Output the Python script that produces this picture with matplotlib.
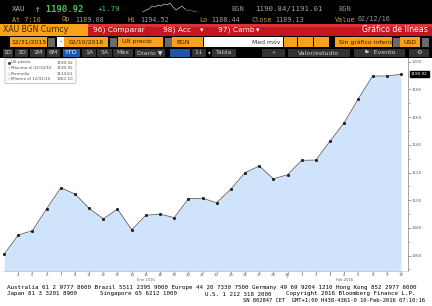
import matplotlib
matplotlib.use("Agg")
import matplotlib.pyplot as plt
from matplotlib.patches import Rectangle, FancyBboxPatch
from matplotlib.ticker import MultipleLocator, FixedLocator

# XAU BGN Curncy, daily closes 12/31/2015 - 02/10/2016
days = ['31', '4', '5', '6', '7', '8', '11', '12', '13', '14', '15', '18', '19', '20',
        '21', '22', '25', '26', '27', '28', '29', '1', '2', '3', '4', '5', '8', '9', '10']
prices = [1061.10, 1074.9, 1078.0, 1093.9, 1109.0, 1104.5, 1094.1, 1086.6, 1093.6,
          1078.7, 1089.1, 1090.0, 1087.4, 1101.1, 1101.4, 1098.2, 1108.1, 1119.9,
          1124.7, 1115.5, 1118.4, 1128.8, 1129.0, 1142.7, 1156.0, 1173.3, 1189.7,
          1189.7, 1190.92]
months = ['Ene 2016', 'Feb 2016']
month_pos = [10, 24]

legend_rows = [('Ult precio', '1190.92'), ('Máximo el 02/10/16', '1190.92'),
               ('Promedio', '1114.61'), ('Mínimo el 12/31/15', '1061.10')]

# intraday sparkline in the header
spark = [3, 5, 6, 9, 8, 10, 9, 11, 10, 12, 8, 5, 7, 9, 6, 4, 5, 3, 4]

mono = 'DejaVu Sans Mono'
ORANGE = '#f9a11b'
RED = '#c3161e'
LBL = '#c89a48'
VAL = '#9a9a9a'

fig = plt.figure(figsize=(4.32, 3.06), dpi=100)
bg = fig.add_axes([0, 0, 1, 1])
bg.set_xlim(0, 432)
bg.set_ylim(306, 0)
bg.axis('off')


def box(a, x0, y0, x1, y1, color, **kw):
    a.add_patch(Rectangle((x0, y0), x1 - x0, y1 - y0, color=color, lw=0, **kw))


def txt(a, x, y, s, size=5, color='black', ha='left', family='DejaVu Sans', **kw):
    a.text(x, y, s, fontsize=size, color=color, ha=ha, va='center', family=family, **kw)


# header (black)
box(bg, 0, 0, 432, 58, 'black')
txt(bg, 12, 9, 'XAU', 5.4, '#b0b0b0', family=mono)
txt(bg, 35, 9, '↑ 1190.92', 6.4, '#4ec24e', family=mono, weight='bold')
txt(bg, 98, 9, '+1.79', 5.4, '#4ec24e', family=mono)
sx = [143 + i * 3.0 for i in range(len(spark))]
sy = [15 - v for v in spark]
bg.plot(sx[:15], sy[:15], color='#c8c8c8', lw=0.5)
bg.plot(sx[14:], sy[14:], color='#707070', lw=0.5)
txt(bg, 231, 9, 'BGN', 5.0, '#909090', family=mono)
txt(bg, 255, 9, '1190.84/1191.01', 5.4, '#a0a0a0', family=mono)
txt(bg, 338, 9, 'BGN', 5.0, '#909090', family=mono)

row1 = [(12, 'At 7:10', LBL), (62, 'Op', LBL), (75, '1189.08', VAL),
        (127, 'Hi', LBL), (140, '1194.52', VAL), (199, 'Lo', LBL),
        (211, '1188.44', VAL), (252, 'Close', LBL), (275, '1189.13', VAL),
        (335, 'Value', LBL), (358, '02/12/16', VAL)]
for x, s, c in row1:
    txt(bg, x, 19.5, s, 4.9, c, family=mono)

# row 2: security + red action bar
box(bg, 0, 24, 88, 36, ORANGE)
txt(bg, 3, 30, 'XAU BGN Curncy', 5.6, '#3a2300')
box(bg, 88, 24, 432, 36, RED)
box(bg, 88, 24, 432, 27, '#d8343a')
txt(bg, 93, 30, '96) Comparar', 5.4, 'white')
txt(bg, 163, 30, '98) Acc', 5.4, 'white')
txt(bg, 200, 30.5, '▾', 5, 'white')
txt(bg, 218, 30, '97) Camb', 5.4, 'white')
txt(bg, 256, 30.5, '▾', 5, 'white')
txt(bg, 428, 30, 'Gráfico de líneas', 5.6, 'white', ha='right')

# row 3: date range and options
fields = [(10, 47, '12/31/2015', 'center'), (64, 108, '02/10/2016', 'center'),
          (118, 163, 'Ult precio', 'left'), (172, 203, 'BGN', 'left'),
          (284, 297, '', 'left'), (298, 313, '', 'left'), (314, 329, '', 'left'),
          (335, 392, 'Sin gráfico inferio', 'left'), (400, 420, 'USD', 'left')]
for x0, x1, s, ha in fields:
    box(bg, x0, 37, x1, 47, ORANGE)
    tx = (x0 + x1) / 2 if ha == 'center' else x0 + 4
    txt(bg, tx, 42, s, 4.4, '#2a1800', ha=ha)
for x0 in (48, 110, 165, 393, 422):
    box(bg, x0, 37.5, x0 + 7, 46.5, '#6a6a6a')
box(bg, 57, 37, 64, 47, 'white')
txt(bg, 60.5, 42, '-', 4.4, 'black', ha='center')
box(bg, 204, 37, 283, 47, 'white')
txt(bg, 280, 42, 'Med móv', 4.4, '#333333', ha='right')

# row 4: period buttons
buttons = [(3, 13, '1D'), (15, 28, '3D'), (30, 45, '1M'), (47, 60, '6M'), (63, 80, 'YTD'),
           (82, 96, '1A'), (97, 112, '5A'), (113, 133, 'Máx'), (135, 165, 'Diario ▼'),
           (170, 190, ''), (192, 206, '1↓'), (212, 236, 'Tabla'), (262, 285, '«'),
           (288, 350, 'Valor/estudio'), (354, 405, '⚑  Evento'), (409, 429, '⚙')]
for x0, x1, s in buttons:
    c = '#1f57a8' if s in ('YTD', '') else '#333333'
    box(bg, x0, 48.5, x1, 57, c)
    txt(bg, (x0 + x1) / 2, 52.8, s, 4.5, 'white' if s == 'YTD' else '#d0d0d0', ha='center')
txt(bg, 209, 52.8, '▾', 4, '#d0d0d0', ha='center')

# footer
box(bg, 0, 283, 432, 306, 'white')
txt(bg, 7, 287.5, 'Australia 61 2 9777 8600 Brazil 5511 2395 9000 Europe 44 20 7330 7500 '
    'Germany 49 69 9204 1210 Hong Kong 852 2977 6000', 4.25, 'black', family=mono)
txt(bg, 7, 294, 'Japan 81 3 3201 8900', 4.25, 'black', family=mono)
txt(bg, 100, 294, 'Singapore 65 6212 1000', 4.25, 'black', family=mono)
txt(bg, 205, 294, 'U.S. 1 212 318 2000', 4.25, 'black', family=mono)
txt(bg, 286, 294, 'Copyright 2016 Bloomberg Finance L.P.', 4.25, 'black', family=mono)
txt(bg, 243, 300.5, 'SN 802847 CET  GMT+1:00 H438-4361-0 10-Feb-2016 07:10:16', 3.95,
    'black', family=mono)

# chart
ax = fig.add_axes([3 / 432, 35 / 306, 405 / 432, 213 / 306])
ax.set_facecolor('white')
xs = list(range(len(prices)))
ax.fill_between(xs, prices, 1000, color='#cfe4fa', lw=0)
ax.plot(xs, prices, color='#606060', lw=0.6, marker='s', ms=1.1,
        mfc='#202020', mec='#202020')
for s in ('top', 'left'):
    ax.spines[s].set_visible(False)
ax.spines['right'].set_color('#808080')
ax.spines['right'].set_linewidth(0.5)
ax.spines['bottom'].set_color('#c0c0c0')
ax.spines['bottom'].set_linewidth(0.4)
ax.yaxis.tick_right()
ax.yaxis.set_major_locator(MultipleLocator(20))
ax.yaxis.set_minor_locator(MultipleLocator(10))
ax.set_xlim(-0.08, 28.5)
ax.set_ylim(1048.9, 1202.7)
ax.tick_params(axis='y', which='major', labelsize=3, colors='#606060', length=1.8,
               width=0.4, pad=1)
ax.tick_params(axis='y', which='minor', length=1.2, width=0.4, colors='#808080')
ax.xaxis.set_major_locator(FixedLocator(xs[1:]))
ax.set_xticklabels(days[1:])
ax.tick_params(axis='x', labelsize=2.9, colors='#606060', length=1.2, width=0.4, pad=0.6)

# last price tag
ax.annotate(f'{prices[-1]:.2f}', xy=(1, prices[-1]), xycoords=('axes fraction', 'data'),
            xytext=(2, 0), textcoords='offset points', fontsize=3, color='white',
            va='center', ha='left',
            bbox=dict(boxstyle='square,pad=0.25', fc='black', ec='black'))

# month labels and month break
for p, m in zip(month_pos, months):
    ax.annotate(m, xy=(p, 0), xycoords=('data', 'axes fraction'), xytext=(0, -7.2),
                textcoords='offset points', fontsize=2.7, color='#606060', ha='center')
ax.annotate('', xy=(20, 0), xycoords=('data', 'axes fraction'), xytext=(20, -7),
            textcoords=('data', 'offset points'),
            arrowprops=dict(arrowstyle='-', color='#909090', lw=0.4))

# legend box on an overlay above the chart
top = fig.add_axes([0, 0, 1, 1], facecolor='none')
top.set_xlim(0, 432)
top.set_ylim(306, 0)
top.axis('off')
top.add_patch(FancyBboxPatch((5, 58.5), 71, 25, boxstyle='round,pad=0,rounding_size=2',
                             fc='white', ec='#b0b0b0', lw=0.5))
for i, (lab, val) in enumerate(legend_rows):
    y = 62.5 + i * 5.6
    if i == 0:
        top.plot(8.5, y, marker='o', ms=1.2, color='#404040')
    else:
        top.add_patch(Rectangle((7.5, y - 1), 2, 2, fc='white', ec='#c0c0c0', lw=0.3))
    top.text(11, y, lab, fontsize=3, color='#505050', va='center')
    top.text(73, y, val, fontsize=3, color='#505050', va='center', ha='right')

fig.savefig('out.png', dpi=100)
